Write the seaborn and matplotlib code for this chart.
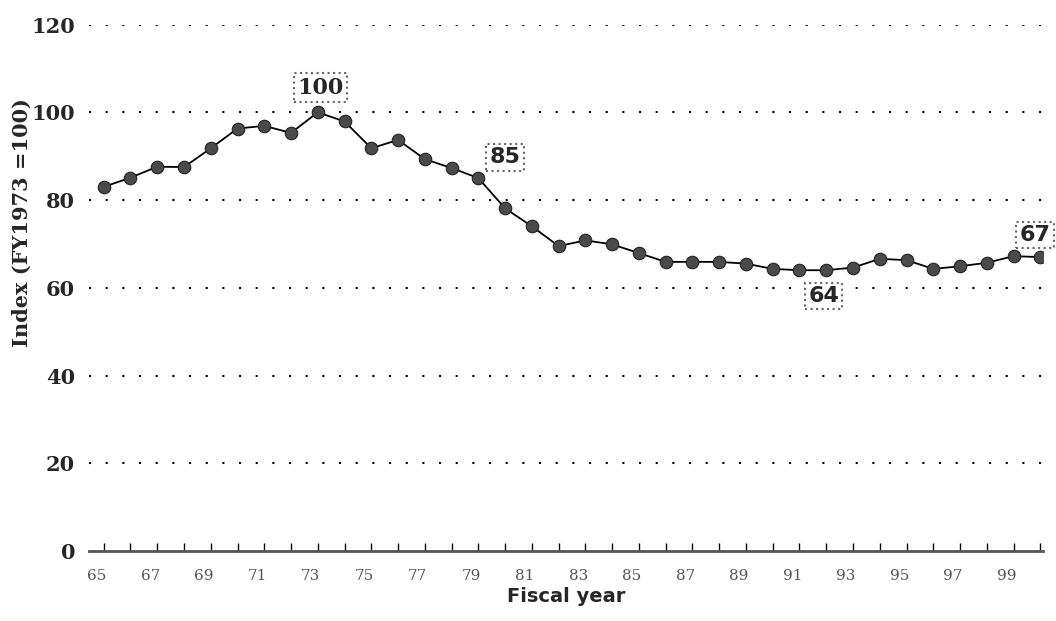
import matplotlib
matplotlib.use("Agg")
import matplotlib.pyplot as plt
import matplotlib.transforms as mtransforms
import pandas as pd
import seaborn as sns

# Index of real values, FY1973 = 100
years = list(range(65, 101))
index_values = [
    83.0, 85.1, 87.6, 87.5, 91.8, 96.3, 96.9, 95.3, 100.0, 97.9,
    91.8, 93.7, 89.3, 87.3, 85.0, 78.1, 74.0, 69.5, 70.8, 69.9,
    67.9, 65.9, 65.9, 65.9, 65.5, 64.3, 64.0, 64.0, 64.6, 66.6,
    66.3, 64.3, 64.9, 65.7, 67.2, 67.0,
]
callout_text = ["100", "85", "64", "67"]
callout_year = [73.1, 80.0, 91.9, 99.8]
callout_y = [105.6, 89.7, 58.1, 72.0]
callout_serif = [True, False, False, False]
y_ticks = [0, 20, 40, 60, 80, 100, 120]
x_labels = [str(y) if y % 2 == 1 else "" for y in years]

df = pd.DataFrame({"year": years, "index": index_values})

sns.set_style("white")
fig = plt.figure(figsize=(10.56, 6.21), dpi=100)
ax = fig.add_axes([0.0843, 0.1127, 0.9034, 0.8478])

# dotted horizontal grid (no line at zero, the axis is drawn there)
for yv in y_ticks[1:]:
    ax.axhline(yv, color="black", lw=1.5, ls=(0, (1, 7)), zorder=1)

sns.lineplot(
    data=df, x="year", y="index", ax=ax, color="black", lw=1.3,
    marker="o", markersize=9, markerfacecolor="#4a4a4a",
    markeredgecolor="#222222", markeredgewidth=0.8, zorder=3,
)

for txt, xv, yv, serif in zip(callout_text, callout_year, callout_y, callout_serif):
    ax.text(
        xv, yv, txt, ha="center", va="center", fontsize=16, fontweight="bold",
        family="DejaVu Serif" if serif else "DejaVu Sans", clip_on=False, zorder=4,
        bbox=dict(boxstyle="square,pad=0.15", fc="white", ec="#666666", lw=1.5, ls=":"),
    )

ax.set_xlim(64.45, 100.1)
ax.set_ylim(0, 120)

for side in ["top", "right", "left"]:
    ax.spines[side].set_visible(False)
ax.spines["bottom"].set_color("#555555")
ax.spines["bottom"].set_linewidth(2)

ax.set_yticks(y_ticks)
ax.set_yticklabels([str(v) for v in y_ticks], family="DejaVu Serif",
                   fontweight="bold", fontsize=15)
ax.tick_params(axis="y", left=False, length=0, pad=10)

ax.set_xticks(years)
ax.set_xticklabels(x_labels, family="DejaVu Serif", fontsize=11, color="#555555")
ax.tick_params(axis="x", bottom=True, direction="in", length=6, width=1.0,
               color="black", pad=13)
shift = mtransforms.ScaledTranslation(-7 / 100, 0, fig.dpi_scale_trans)
for lab in ax.get_xticklabels():
    lab.set_transform(lab.get_transform() + shift)

ax.set_xlabel("Fiscal year", family="DejaVu Sans", fontweight="bold",
              fontsize=14, labelpad=3)
ax.set_ylabel("Index (FY1973 =100)", family="DejaVu Serif", fontweight="bold",
              fontsize=15)
ax.yaxis.set_label_coords(-0.06, 0.623)

fig.savefig("out.png", dpi=100)
